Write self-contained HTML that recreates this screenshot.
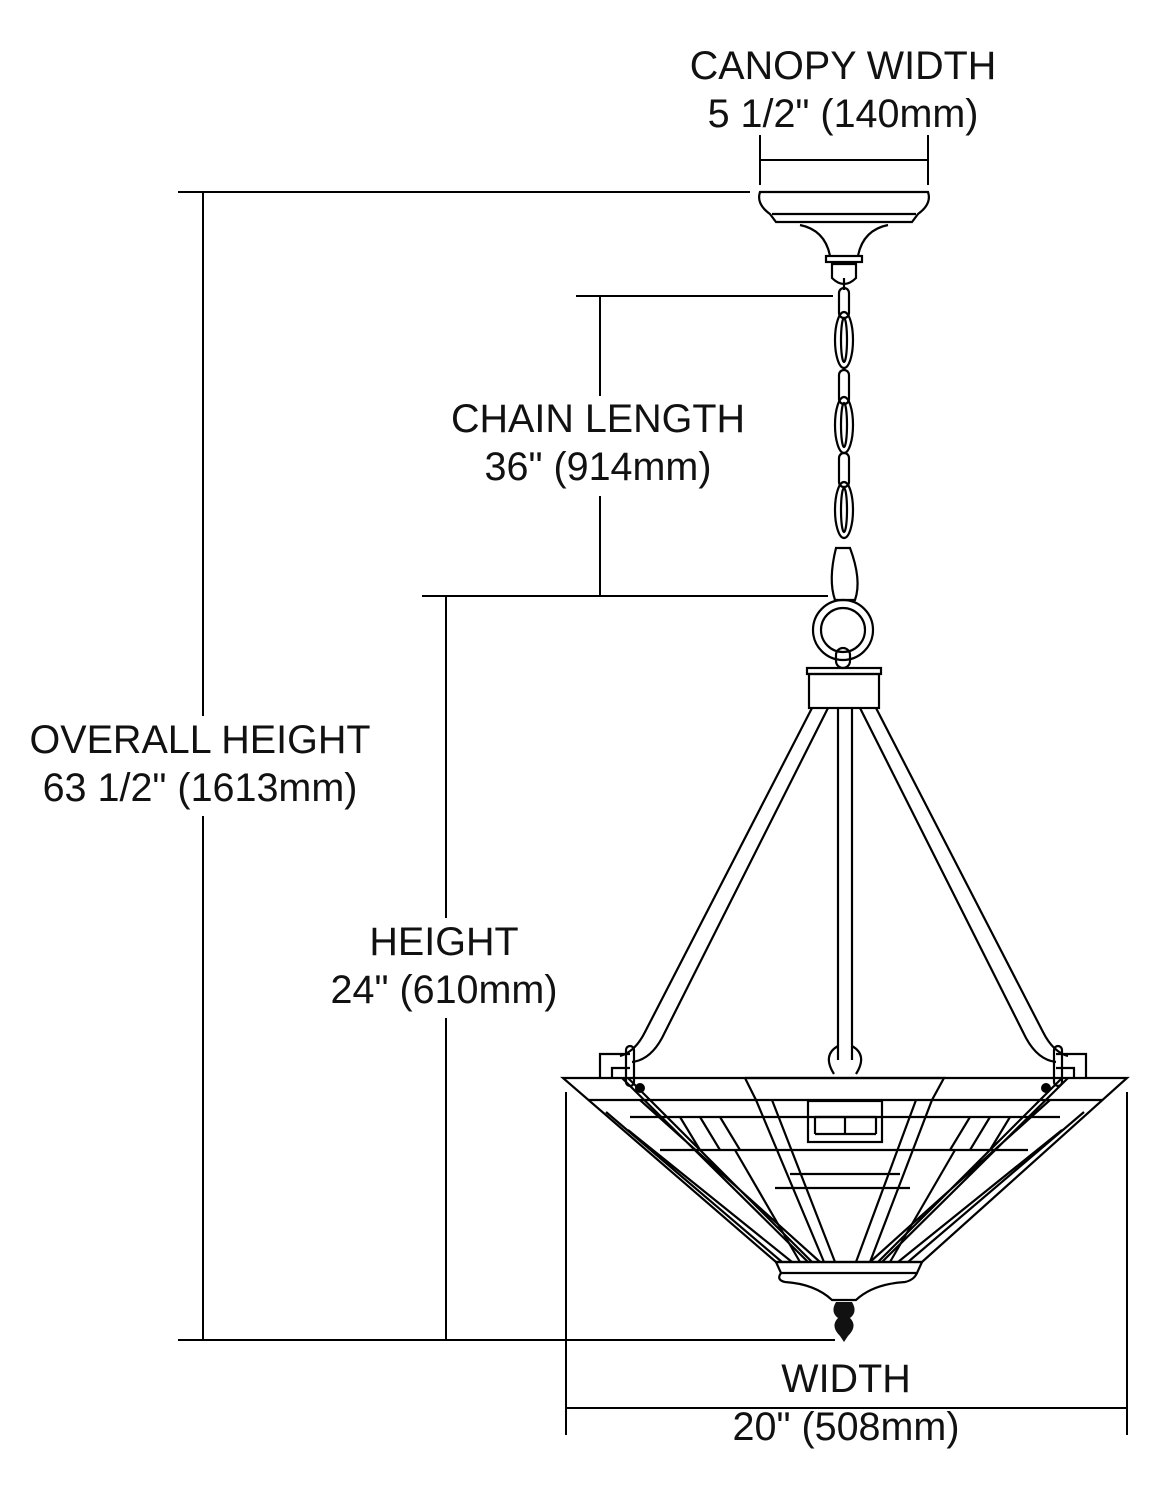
<!DOCTYPE html>
<html><head><style>
html,body{margin:0;padding:0;background:#fff;}
svg{display:block}
text{font-family:"Liberation Sans",sans-serif;font-size:39.5px;fill:#111;text-anchor:middle}
</style></head><body>
<svg width="1156" height="1500" viewBox="0 0 1156 1500" xmlns="http://www.w3.org/2000/svg">
<g stroke="#000" stroke-width="2" fill="none">
<line x1="178" y1="192" x2="750" y2="192"/>
<line x1="203" y1="192" x2="203" y2="1340"/>
<line x1="178" y1="1340" x2="835" y2="1340"/>
<line x1="576" y1="296" x2="833" y2="296"/>
<line x1="600" y1="296" x2="600" y2="596"/>
<line x1="422" y1="596" x2="828" y2="596"/>
<line x1="446" y1="596" x2="446" y2="1340"/>
<line x1="760" y1="135" x2="760" y2="185"/>
<line x1="928" y1="135" x2="928" y2="185"/>
<line x1="760" y1="160" x2="928" y2="160"/>
<line x1="566" y1="1092" x2="566" y2="1435"/>
<line x1="1127" y1="1092" x2="1127" y2="1435"/>
<line x1="566" y1="1408" x2="1127" y2="1408"/>
</g>
<g fill="#fff">
<rect x="440" y="396" width="316" height="100"/>
<rect x="20" y="716" width="360" height="100"/>
<rect x="320" y="918" width="250" height="100"/>
<rect x="700" y="1360" width="290" height="34"/>
<rect x="710" y="1418" width="270" height="34"/>
</g>
<g stroke="#000" stroke-width="2.2" fill="none">
<path d="M760 192 L928 192 Q932 204 918 214 L912 222 L776 222 L770 214 Q756 204 760 192 Z"/>
<line x1="772" y1="214" x2="916" y2="214"/>
<path d="M800 225 Q825 230 830 256 M888 225 Q863 230 858 256"/>
<rect x="826" y="256" width="36" height="6"/>
<path d="M832 264 L856 264 L856 278 Q844 290 832 278 Z"/>
<line x1="844" y1="278" x2="844" y2="290"/>
<ellipse cx="844" cy="340" rx="9" ry="28"/>
<ellipse cx="844" cy="340" rx="3" ry="22"/>
<rect x="839" y="288" width="10" height="30" rx="5"/>
<rect x="839" y="370" width="10" height="34" rx="5"/>
<ellipse cx="844" cy="425" rx="9" ry="28"/>
<ellipse cx="844" cy="425" rx="3" ry="22"/>
<rect x="839" y="453" width="10" height="34" rx="5"/>
<ellipse cx="844" cy="510" rx="9" ry="28"/>
<ellipse cx="844" cy="510" rx="3" ry="22"/>
<path d="M836 548 Q828 580 835 600 L855 600 Q862 580 850 548 Z"/>
<circle cx="843" cy="630" r="30"/>
<circle cx="843" cy="630" r="22"/>
<rect x="836" y="648" width="14" height="20" rx="7"/>
<rect x="807" y="668" width="74" height="6"/>
<rect x="809" y="674" width="70" height="34"/>
<path d="M812 708 L645 1032 Q635 1052 620 1056"/>
<path d="M828 708 L662 1038 Q650 1060 632 1062"/>
<path d="M876 708 L1043 1032 Q1053 1052 1068 1056"/>
<path d="M860 708 L1026 1038 Q1038 1060 1056 1062"/>
<line x1="838" y1="708" x2="838" y2="1060"/>
<line x1="852" y1="708" x2="852" y2="1060"/>
<path d="M834 1074 Q822 1055 838 1046 M852 1046 Q868 1055 856 1074"/>
<path d="M600 1078 L600 1054 L630 1054 M612 1078 L612 1068 L630 1068"/>
<path d="M1086 1078 L1086 1054 L1056 1054 M1074 1078 L1074 1068 L1056 1068"/>
<rect x="626" y="1046" width="8" height="40" rx="4"/>
<rect x="1054" y="1046" width="8" height="40" rx="4"/>
<path d="M563 1078 L1127 1078 L922 1262 L776 1262 Z"/>
<line x1="588" y1="1100" x2="1102" y2="1100"/>
<line x1="630" y1="1117" x2="1060" y2="1117"/>
<line x1="660" y1="1150" x2="1028" y2="1150"/>
<line x1="790" y1="1174" x2="900" y2="1174"/>
<line x1="775" y1="1188" x2="910" y2="1188"/>
<path d="M622 1078 L808 1262 M628 1078 L812 1262 M640 1100 L820 1262"/>
<path d="M1068 1078 L882 1262 M1062 1078 L878 1262 M1050 1100 L870 1262"/>
<path d="M606 1112 L782 1262 M628 1130 L792 1262 M1084 1112 L908 1262 M1062 1130 L898 1262"/>
<path d="M745 1078 L944 1078 L932 1100 L870 1262 M745 1078 L756 1100 L824 1262"/>
<path d="M772 1100 L835 1262 M916 1100 L856 1262"/>
<path d="M735 1150 L800 1262 M955 1150 L890 1262"/>
<path d="M680 1117 L700 1150 M700 1117 L720 1150 M720 1117 L740 1150 M990 1117 L970 1150 M1010 1117 L990 1150 M970 1117 L950 1150"/>
<rect x="808" y="1101" width="74" height="41"/>
<line x1="815" y1="1117" x2="876" y2="1117"/>
<line x1="815" y1="1134" x2="876" y2="1134"/>
<line x1="815" y1="1117" x2="815" y2="1134"/>
<line x1="845" y1="1117" x2="845" y2="1134"/>
<line x1="876" y1="1117" x2="876" y2="1134"/>
<line x1="776" y1="1262" x2="922" y2="1262"/>
<path d="M776 1262 L781 1273 L917 1273 L922 1262"/>
<path d="M781 1273 Q776 1280 785 1282 Q815 1284 832 1300 L856 1300 Q873 1284 905 1282 Q914 1280 917 1273"/>
</g>
<circle cx="640" cy="1088" r="5" fill="#000"/>
<circle cx="1046" cy="1088" r="5" fill="#000"/>
<path d="M836 1302 L852 1302 Q858 1312 850 1318 Q858 1326 848 1336 L844 1342 L840 1336 Q830 1326 838 1318 Q830 1312 836 1302 Z" fill="#111"/>
<text x="843" y="79">CANOPY WIDTH</text>
<text x="843" y="127">5 1/2" (140mm)</text>
<text x="598" y="432">CHAIN LENGTH</text>
<text x="598" y="480">36" (914mm)</text>
<text x="200" y="753">OVERALL HEIGHT</text>
<text x="200" y="801">63 1/2" (1613mm)</text>
<text x="444" y="955">HEIGHT</text>
<text x="444" y="1003">24" (610mm)</text>
<text x="846" y="1392">WIDTH</text>
<text x="846" y="1440">20" (508mm)</text>
</svg>
</body></html>
